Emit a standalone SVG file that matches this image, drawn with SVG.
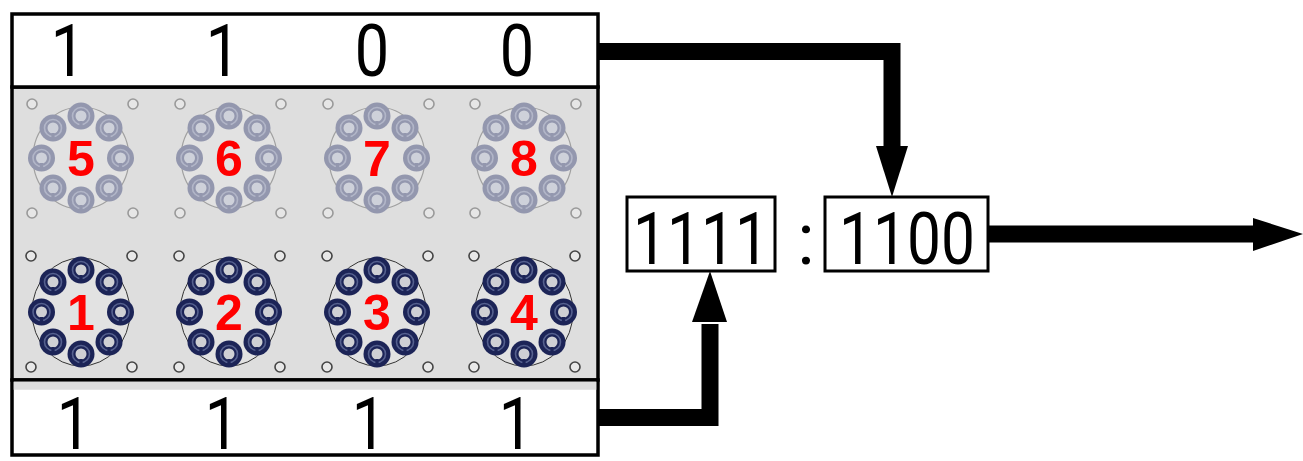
<svg xmlns="http://www.w3.org/2000/svg" xmlns:xlink="http://www.w3.org/1999/xlink" width="1303" height="461" viewBox="0 0 1303 461">
<style>
.frame{stroke:#000;stroke-width:3.5;}
.big{font-family:Roboto,"Liberation Sans",Arial,sans-serif;font-size:72px;fill:#000;text-anchor:middle;}
.reg{font-family:Roboto,"Liberation Sans",Arial,sans-serif;font-size:72px;fill:#000;text-anchor:middle;}
.lab{font-family:"Liberation Sans",Arial,sans-serif;font-size:50px;font-weight:bold;fill:#ff0000;text-anchor:middle;}
.conn{fill:none;stroke:#000;stroke-width:17;stroke-linejoin:miter;stroke-linecap:butt;}
.box{fill:#fff;stroke:#000;stroke-width:3;}
</style>
<defs>
<g id="boltD">
<circle r="13.5" fill="#1c2457"/>
<circle r="8.5" fill="none" stroke="#56618f" stroke-width="1.6"/>
<circle r="5.5" fill="#cfd0d4"/>
<rect x="-1.6" y="5" width="3.2" height="5" fill="#1c2457"/>
</g>
<g id="boltL">
<circle r="13.5" fill="#9397ae"/>
<circle r="8.5" fill="none" stroke="#b2b6c8" stroke-width="1.6"/>
<circle r="5.5" fill="#ced1da"/>
<rect x="-1.6" y="5" width="3.2" height="5" fill="#9397ae"/>
</g>
<g id="flangeD">
<ellipse rx="49" ry="54" fill="#e2e2e2" stroke="#333" stroke-width="1"/>
<use xlink:href="#boltD" x="0" y="-42"/>
<use xlink:href="#boltD" x="28" y="-30"/>
<use xlink:href="#boltD" x="39.5" y="0"/>
<use xlink:href="#boltD" x="28" y="30"/>
<use xlink:href="#boltD" x="0" y="42"/>
<use xlink:href="#boltD" x="-28" y="30"/>
<use xlink:href="#boltD" x="-39.5" y="0"/>
<use xlink:href="#boltD" x="-28" y="-30"/>
<g fill="#e8e8e8" stroke="#444" stroke-width="1.6">
<circle cx="-50" cy="-56" r="5"/><circle cx="51" cy="-56" r="5"/>
<circle cx="-50" cy="55" r="5"/><circle cx="51" cy="55" r="5"/>
</g>
</g>
<g id="flangeL">
<ellipse rx="48" ry="51" fill="#e2e2e2" stroke="#a0a0a0" stroke-width="1.2"/>
<use xlink:href="#boltL" x="0" y="-42"/>
<use xlink:href="#boltL" x="28" y="-30"/>
<use xlink:href="#boltL" x="39.5" y="0"/>
<use xlink:href="#boltL" x="28" y="30"/>
<use xlink:href="#boltL" x="0" y="42"/>
<use xlink:href="#boltL" x="-28" y="30"/>
<use xlink:href="#boltL" x="-39.5" y="0"/>
<use xlink:href="#boltL" x="-28" y="-30"/>
<g fill="#e6e6e6" stroke="#999" stroke-width="1.6">
<circle cx="-49" cy="-54" r="5"/><circle cx="52" cy="-54" r="5"/>
<circle cx="-49" cy="55" r="5"/><circle cx="52" cy="55" r="5"/>
</g>
</g>
</defs>
<rect width="1303" height="461" fill="#fff"/>

<g id="panel">
<rect class="frame" x="12" y="87" width="586" height="293" fill="#dedede"/>
</g>

<g id="top-bits">
<rect class="frame" x="12" y="14" width="586" height="73" fill="#fff"/>
<text class="big" transform="translate(68 76) scale(0.85 1)">1</text>
<text class="big" transform="translate(223 76) scale(0.85 1)">1</text>
<text class="big" transform="translate(372 76) scale(0.85 1)">0</text>
<text class="big" transform="translate(517 76) scale(0.85 1)">0</text>
</g>

<g id="bottom-bits">
<rect class="frame" x="12" y="380" width="586" height="75" fill="#fff"/>
<rect x="13.75" y="381.75" width="582.5" height="8" fill="#dedede"/>
<text class="big" transform="translate(74 449) scale(0.85 1)">1</text>
<text class="big" transform="translate(222 449) scale(0.85 1)">1</text>
<text class="big" transform="translate(369 449) scale(0.85 1)">1</text>
<text class="big" transform="translate(516 449) scale(0.85 1)">1</text>
</g>

<g id="flange5"><use xlink:href="#flangeL" x="81" y="158"/><text class="lab" x="81" y="176">5</text></g>
<g id="flange6"><use xlink:href="#flangeL" x="229" y="158"/><text class="lab" x="229" y="176">6</text></g>
<g id="flange7"><use xlink:href="#flangeL" x="377" y="158"/><text class="lab" x="377" y="176">7</text></g>
<g id="flange8"><use xlink:href="#flangeL" x="524" y="158"/><text class="lab" x="524" y="176">8</text></g>

<g id="flange1"><use xlink:href="#flangeD" x="81" y="312"/><text class="lab" x="81" y="330">1</text></g>
<g id="flange2"><use xlink:href="#flangeD" x="229" y="312"/><text class="lab" x="229" y="330">2</text></g>
<g id="flange3"><use xlink:href="#flangeD" x="377" y="312"/><text class="lab" x="377" y="330">3</text></g>
<g id="flange4"><use xlink:href="#flangeD" x="524" y="312"/><text class="lab" x="524" y="330">4</text></g>

<g id="code-low">
<rect class="box" x="627" y="197" width="148" height="74"/>
<text class="reg" transform="translate(701 264) scale(0.84 1)">1111</text>
</g>
<g id="colon">
<text class="reg" x="806" y="264">:</text>
</g>
<g id="code-high">
<rect class="box" x="825" y="197" width="163" height="74"/>
<text class="reg" transform="translate(907 264) scale(0.84 1)">1100</text>
</g>

<g id="connectors">
<path class="conn" d="M598 51.5 H892 V148"/>
<polygon points="876,146 908,146 892,197" fill="#000"/>
<path class="conn" d="M598 417.5 H710 V324"/>
<polygon points="692,322 727,322 710,271" fill="#000"/>
<path class="conn" d="M988 234 H1256"/>
<polygon points="1253,218 1253,251 1303,234" fill="#000"/>
</g>
</svg>
